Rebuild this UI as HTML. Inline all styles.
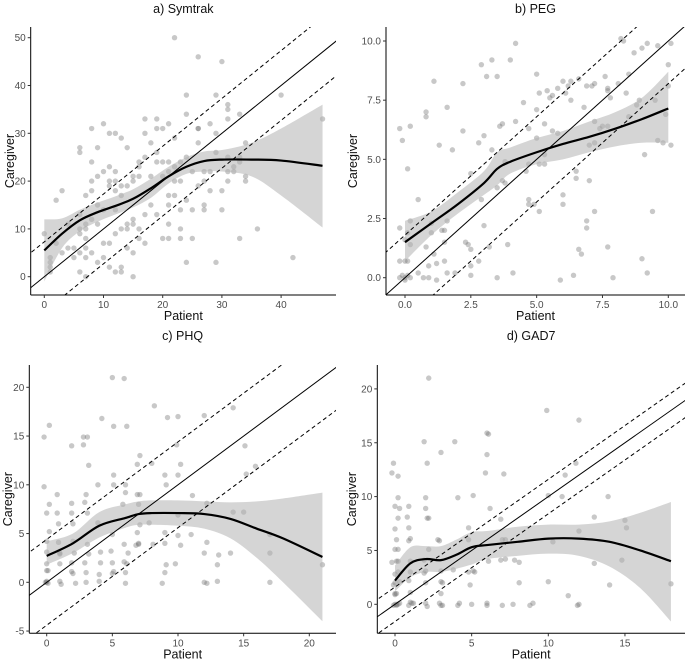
<!DOCTYPE html>
<html><head><meta charset="utf-8">
<style>
html,body{margin:0;padding:0;background:#fff;overflow:hidden;width:685px;height:661px;}
svg{display:block;font-family:"Liberation Sans",Arial,sans-serif;}
.tick{font-size:10px;fill:#4d4d4d;}
.atitle{font-size:12.5px;fill:#111;}
.ptitle{font-size:12.5px;fill:#111;}
</style></head>
<body>
<svg id="chart" width="685" height="661" viewBox="0 0 685 661"></svg>
<script>
// ---------- Panel a) Symtrak ----------
const symtrakPoints=[[0,9],[1,4],[1,3],[1,2],[1,1],[2,16],[2,7],[3,18],[3,5],[4,11],[4,6],[5,4],[5,6],[6,27],[6,26],[6,13],[6,10],[6,9],[6,5],[6,1],[7,17],[7,11],[7,10],[7,8],[7,6],[7,4],[7,0],[8,31],[8,24],[8,20],[8,18],[8,12],[8,5],[9,27],[9,21],[9,15],[9,11],[9,3],[10,32],[10,22],[10,14],[10,7],[10,4],[11,30],[11,23],[11,20],[11,19],[11,2],[11,7],[12,30],[12,22],[12,20],[12,18],[12,14],[12,9],[12,1],[13,29],[13,19],[13,17],[13,10],[13,2],[13,1],[14,27],[14,19],[14,11],[14,10],[14,6],[15,21],[15,20],[15,12],[15,11],[15,5],[15,0],[16,24],[16,23],[16,21],[16,10],[16,8],[17,33],[17,30],[17,25],[17,13],[17,7],[18,28],[18,21],[18,15],[19,33],[19,31],[19,26],[19,24],[19,13],[20,31],[20,24],[20,21],[20,8],[21,32],[21,24],[21,22],[21,17],[21,15],[21,11],[21,8],[22,50],[22,29],[22,23],[22,20],[22,17],[23,24],[23,20],[23,14],[23,10],[23,8],[24,38],[24,34],[24,25],[24,16],[24,3],[25,22],[25,14],[25,8],[26,46],[26,31],[26,31],[26,28],[26,19],[27,22],[27,20],[27,15],[27,14],[28,32],[28,22],[28,18],[29,38],[29,30],[29,26],[29,3],[30,45],[30,18],[30,14],[31,36],[31,35],[31,33],[31,25],[31,22],[31,20],[32,23],[32,22],[33,34],[33,25],[33,24],[33,8],[34,28],[34,21],[34,20],[36,10],[40,38],[42,4],[47,33]];
const symtrakSmoothX=[0,3,6,9,12,15,18,21,24,27,30,35,40,47];
const symtrakSmoothY=[5.5,9,11.8,13.5,14.8,16.3,18.5,21,23,24.2,24.5,24.5,24.3,23.2];
const symtrakLo=[-1,6,9.5,11.5,13,14.5,16.5,19.5,21.5,22,22,21,17,10.3];
const symtrakHi=[12,12.2,14,15.5,16.8,18.3,20.5,23,25,26.2,26.5,28,31,36];
const symtrakXTicks=[0,10,20,30,40];
const symtrakYTicks=[0,10,20,30,40,50];
const symtrakOffset=7.3;

// ---------- Panel b) PEG ----------
const pegPoints=[[-0.2,6.3],[-0.1,5.8],[-0.2,2.1],[-0.2,0.7],[0,0.7],[0.1,0.7],[0,1.6],[0.1,1.9],[0.2,1.4],[0.1,4.6],[0.2,6.4],[0.2,2.4],[-0.2,0],[0,0],[0,-0.1],[0.1,0.1],[0.2,0],[-0.1,0.1],[0.5,3.3],[0.5,0.2],[0.7,0],[0.8,7],[0.8,6.8],[0.8,1.3],[0.9,0.5],[0.9,0],[1,2.3],[1,1.9],[1.1,1],[1.1,8.3],[1.2,0.6],[1.2,-0.1],[1.3,5.6],[1.4,2],[1.5,2],[1.5,0.7],[1.5,1.5],[1.6,7.2],[1.6,2.4],[1.6,0.2],[1.8,5.4],[1.9,0.2],[2.2,8.2],[2.2,6.2],[2.3,1.5],[2.4,1.4],[2.5,4.4],[2.5,0.5],[2.5,1.2],[2.5,0.1],[2.8,5.7],[2.8,0.7],[2.9,9],[2.9,3.3],[3,6],[3,2.2],[3.1,8.5],[3.2,1.3],[3.3,9.2],[3.3,5.4],[3.5,8.5],[3.5,3.8],[3.5,0],[3.6,6.4],[3.7,6.5],[3.7,4.1],[3.8,4.9],[3.8,4],[3.9,1.4],[4,9.2],[4.1,0.2],[4.2,9.9],[4.2,6.6],[4.5,7.4],[4.6,4.5],[4.7,6.3],[4.7,4.8],[4.7,3.3],[4.7,3.1],[4.9,3.1],[5,8.6],[5,7.1],[5,5.9],[5.1,7.8],[5.1,4.8],[5.1,2.8],[5.3,4.8],[5.3,6.5],[5.3,5.2],[5.4,7.9],[5.5,7.6],[5.6,7.7],[5.6,6.2],[5.8,8],[5.8,6.1],[5.9,-0.1],[6,8.3],[6,3.1],[6,3.5],[6.1,7.8],[6.2,8.1],[6.3,8.3],[6.3,7.5],[6.4,0.1],[6.5,4.2],[6.5,4.5],[6.6,1.2],[6.6,8.4],[6.7,1],[6.8,7.2],[6.9,8.1],[6.9,2.4],[6.9,2.1],[7,5.6],[7,4.1],[7.1,8.1],[7.2,8.2],[7.2,6.6],[7.2,5.7],[7.2,2.8],[7.4,6.3],[7.5,6.4],[7.6,8.5],[7.7,8],[7.7,7.9],[7.7,6.4],[7.7,1.3],[7.8,7.6],[7.9,0],[8.1,8.2],[8.2,10.1],[8.3,10],[8.4,7.8],[8.5,6.8],[8.5,8.6],[8.7,9.5],[8.8,7.3],[8.9,7.5],[9,9.7],[9,0.8],[9.1,5.2],[9.2,9.9],[9.2,0.2],[9.4,2.8],[9.5,7.5],[9.6,5.8],[9.6,9.8],[9.8,5.7],[9.9,6.9],[10,8.1],[10,9],[10.1,9.9],[10.1,5.6]];
const pegSmoothX=[0,1,2,3,3.5,4,5,6,7,8,9,10];
const pegSmoothY=[1.5,2.3,3.1,4,4.6,4.9,5.3,5.65,5.95,6.3,6.7,7.15];
const pegLo=[0.7,1.8,2.7,3.5,3.9,4.4,4.8,5.0,5.3,5.55,5.7,5.7];
const pegHi=[2.4,2.8,3.6,4.5,5.3,5.5,5.9,6.2,6.6,7.0,7.6,8.7];
const pegXTicks=[0,2.5,5,7.5,10];
const pegYTicks=[0,2.5,5,7.5,10];
const pegOffset=1.8;

// ---------- Panel c) PHQ ----------
const phqPoints=[[-0.2,14.9],[-0.2,9.8],[0.2,16.1],[0.2,8],[0.2,5.2],[0,7.1],[0,4.2],[0,3.1],[0,1.9],[0,1.2],[0,0.1],[0,0],[0.1,-0.1],[-0.1,0],[0.1,1.2],[0.8,9],[0.8,7.1],[0.9,6],[0.9,4.1],[1,3],[1,2.9],[1,1.9],[1,0.1],[1.1,-0.2],[1.9,14],[1.9,8.1],[1.9,7.1],[1.9,2],[1.9,1.1],[2,0.9],[2,4.2],[2,6],[2.1,3],[2.2,-0.1],[2.8,14.9],[2.8,14.1],[2.9,8.2],[2.9,2],[3,9],[3,1],[3,0],[3.1,14.9],[3.1,7.1],[3.1,3.9],[3.2,12],[3.2,2.9],[3.9,6.1],[3.9,10],[4,0.8],[4,0.1],[4.1,3.1],[4.1,2],[4.2,16.8],[4.9,3.2],[5,0.9],[5,2],[5,21],[5.1,16],[5.1,11],[5.1,10],[5,4.9],[5.1,1.1],[5.8,8],[5.9,20.9],[5.9,3.9],[5.9,2.1],[6,10],[6,9.2],[6,1],[6,-0.1],[6.1,16],[6.1,1.9],[6.2,3],[6.8,3.8],[6.9,5.1],[6.9,9],[6.9,12.1],[7.1,13],[7,8],[7,4],[7,3.9],[7.1,5.9],[7.1,9],[7.8,6.1],[8,12.2],[8.1,3.9],[8.2,18.1],[8.8,-0.1],[9,11],[9,5.1],[9,4],[9,1],[9.1,1.8],[9.1,10],[9.2,16.9],[9.8,1.9],[9.9,14.1],[10,17],[10,11],[10,4.8],[10,6.9],[10.2,3.8],[10.2,12.1],[11,4.9],[11.1,8.9],[12,17.1],[12,3],[12,0],[12.2,-0.1],[12.2,4.1],[12.2,8.1],[13,0.1],[13.1,2.8],[13,1.8],[14,3],[14.2,17.9],[14.2,7.2],[15,7.2],[15.1,14],[15.2,11.1],[15.9,11.9],[17,4.9],[17,3],[17,0],[21,1.8]];
const phqSmoothX=[0,2,4,6,7,8,10,12,14,16,18,21];
const phqSmoothY=[2.7,4,5.8,6.6,7,7.1,7.1,7,6.5,5.5,4.5,2.6];
const phqLo=[1.8,3,4.6,5.6,5.9,5.9,5.8,5.5,4.5,2.5,0,-4];
const phqHi=[4.2,5,7.2,8,8.3,8.4,8.4,8.3,8.2,8.3,8.6,9.2];
const phqXTicks=[0,5,10,15,20];
const phqYTicks=[-5,0,5,10,15,20];
const phqOffset=4.4;

// ---------- Panel d) GAD7 ----------
const gadPoints=[[-0.1,13.1],[-0.2,12.2],[0.2,11.9],[0,9.1],[0.3,8.9],[0.2,9.9],[0.2,8],[0,7],[0.1,6],[0,5.1],[0.2,5.1],[0.1,4],[-0.2,3.9],[0,2.8],[0.2,3],[0,2],[-0.1,1.8],[0,1],[0.1,1],[0,0.9],[0,0],[0.1,0],[0.2,0],[-0.1,-0.1],[0.3,0.1],[0.1,-0.1],[0.2,4],[0.3,2.1],[0.9,9.1],[0.8,8.1],[0.9,7.1],[0.9,5.9],[1,6.1],[1,4],[0.9,2.2],[1,3],[1,1.1],[1,0.2],[0.9,-0.1],[1.1,0.1],[1.2,0.1],[1.9,15.1],[2,9.9],[2,8.9],[2.1,8],[2.2,8],[2.1,13.1],[2.2,21],[2.2,5.1],[1.9,4.1],[2,3.1],[1.9,2.9],[2,2],[2,0.1],[2.1,-0.2],[2.8,6],[2.9,5.9],[3,14.1],[3,3.1],[3,2.1],[3,1],[2.9,0.1],[3,-0.1],[3.1,-0.1],[3.1,2],[3.9,15.1],[3.8,3.2],[4.1,9.9],[4.1,-0.1],[4.2,0.1],[4.8,7.1],[4.8,6],[4.8,3],[4.9,1.8],[5,0],[5.1,10.1],[5.1,3.1],[5.2,3],[5.9,12.2],[6,15.9],[6.1,15.8],[6,13.9],[6.2,8.9],[6.1,4],[6,0.1],[6,-0.1],[6.9,7.9],[6.9,4.1],[7,6],[7,-0.1],[7.1,12.1],[7.2,6],[7.2,4.2],[7.7,0],[7.8,4.1],[8.1,3.9],[8.1,2],[8.8,-0.1],[9,0.1],[9.9,18],[10,10.1],[10,2.1],[10.3,5.8],[10.9,10],[11.1,12],[11.3,0.8],[11.8,13.1],[11.9,-0.1],[12,0],[12,17.1],[12,6.8],[13,8.1],[13,3.8],[13.9,10],[14,1.8],[14.8,4.1],[15,7.8],[15.1,7.1],[18,1.9]];
const gadSmoothX=[0,1,2,3,4,5,6,8,10,12,14,16,18];
const gadSmoothY=[2.2,3.8,4.2,4.1,4.6,5.3,5.5,5.8,6.1,6.1,5.8,5,4];
const gadLo=[1.2,2.5,3,3,3.3,3.7,4.2,4.5,4.7,4.5,3.5,1.5,-1.6];
const gadHi=[3.6,5.3,5.4,5.4,6,6.7,6.8,7.2,7.4,7.4,7.7,8.5,9.5];
const gadXTicks=[0,5,10,15];
const gadYTicks=[0,5,10,15,20];
const gadOffset=1.6;

const NS="http://www.w3.org/2000/svg";
const svg=document.getElementById('chart');
function mk(tag,attrs,parent){const e=document.createElementNS(NS,tag);for(const k in attrs)e.setAttribute(k,attrs[k]);(parent||svg).appendChild(e);return e;}
function fmt(v,dec){return dec?v.toFixed(1):String(v);}
function curve(pts){
  let d='M'+pts[0][0].toFixed(2)+','+pts[0][1].toFixed(2);
  for(let i=0;i<pts.length-1;i++){
    const p0=pts[Math.max(0,i-1)],p1=pts[i],p2=pts[i+1],p3=pts[Math.min(pts.length-1,i+2)];
    const c1=[p1[0]+(p2[0]-p0[0])/6,p1[1]+(p2[1]-p0[1])/6];
    const c2=[p2[0]-(p3[0]-p1[0])/6,p2[1]-(p3[1]-p1[1])/6];
    d+=' C'+c1.map(v=>v.toFixed(2)).join(',')+' '+c2.map(v=>v.toFixed(2)).join(',')+' '+p2[0].toFixed(2)+','+p2[1].toFixed(2);
  }
  return d;
}
let clipId=0;
function panel(cfg){
  const g=mk('g',{});
  
  
  const x=v=>cfg.x0+(v-cfg.xv0)*cfg.xs;
  const y=v=>cfg.y0-(v-cfg.yv0)*cfg.ys;
  const L=cfg.left,R=cfg.right,T=cfg.top,B=cfg.bottom;
  const cid='clip'+(clipId++);
  const cp=mk('clipPath',{id:cid},g);
  mk('rect',{x:L,y:T,width:R-L,height:B-T},cp);
  const plot=mk('g',{'clip-path':'url(#'+cid+')'},g);
  
  
  cfg.points.forEach(p=>{
    const c=mk('circle',{cx:x(p[0]).toFixed(2),cy:y(p[1]).toFixed(2),r:2.7,fill:'#6e6e6e','fill-opacity':0.38},plot);
    
    
  });
  const up=cfg.sx.map((v,i)=>[x(v),y(cfg.hi[i])]);
  const lo=cfg.sx.map((v,i)=>[x(v),y(cfg.lo[i])]).reverse();
  const bd=curve(up)+' L'+lo[0][0]+','+lo[0][1]+' '+curve(lo).slice(1)+' Z';
  const band=mk('path',{d:bd,fill:'#b3b3b3','fill-opacity':0.55,stroke:'none'},plot);
  
  
  const xa=cfg.xv0-50,xb=cfg.xv0+100;
  const idl=mk('line',{x1:x(xa),y1:y(xa),x2:x(xb),y2:y(xb),stroke:'#000','stroke-width':1},plot);
  
  
  [cfg.off,-cfg.off].forEach(o=>{
    const l=mk('line',{x1:x(xa),y1:y(xa+o),x2:x(xb),y2:y(xb+o),stroke:'#000','stroke-width':1,'stroke-dasharray':'4,3'},plot);
    
    
  });
  const sm=mk('path',{d:curve(cfg.sx.map((v,i)=>[x(v),y(cfg.sy[i])])),fill:'none',stroke:'#000','stroke-width':2.2},plot);
  
  
  const ax=mk('line',{x1:L,y1:B,x2:R,y2:B,stroke:'#000','stroke-width':1},g);
  
  
  const ay=mk('line',{x1:L,y1:T,x2:L,y2:B,stroke:'#000','stroke-width':1},g);
  
  
  cfg.xt.forEach(v=>{
    mk('line',{x1:x(v),y1:B,x2:x(v),y2:B+3,stroke:'#333'},g);
    const t=mk('text',{x:x(v),y:B+13,'text-anchor':'middle',class:'tick'},g);
    t.textContent=fmt(v,cfg.dec);
    
    
  });
  cfg.yt.forEach(v=>{
    mk('line',{x1:L-3,y1:y(v),x2:L,y2:y(v),stroke:'#333'},g);
    const t=mk('text',{x:L-5,y:y(v)+3.5,'text-anchor':'end',class:'tick'},g);
    t.textContent=fmt(v,cfg.dec);
    
    
  });
  const tt=mk('text',{x:(L+R)/2,y:cfg.titleY,'text-anchor':'middle',class:'ptitle'},g);
  tt.textContent=cfg.title;
  
  
  const xl=mk('text',{x:(L+R)/2,y:B+25,'text-anchor':'middle',class:'atitle'},g);
  xl.textContent='Patient';
  
  
  const yc=(T+B)/2;
  const yl=mk('text',{x:cfg.ylabX,y:yc,'text-anchor':'middle',class:'atitle',transform:'rotate(-90 '+cfg.ylabX+' '+yc+')'},g);
  yl.textContent='Caregiver';
  
  
}
panel({name:'symtrak',title:'a) Symtrak',points:symtrakPoints,sx:symtrakSmoothX,sy:symtrakSmoothY,lo:symtrakLo,hi:symtrakHi,xt:symtrakXTicks,yt:symtrakYTicks,off:symtrakOffset,dec:false,
  left:30.7,right:336,top:27,bottom:295,x0:44.3,xv0:0,xs:5.92,y0:276.7,yv0:0,ys:4.78,titleY:13,ylabX:14});
panel({name:'peg',title:'b) PEG',points:pegPoints,sx:pegSmoothX,sy:pegSmoothY,lo:pegLo,hi:pegHi,xt:pegXTicks,yt:pegYTicks,off:pegOffset,dec:true,
  left:386,right:685,top:27,bottom:295,x0:405,xv0:0,xs:26.33,y0:277.7,yv0:0,ys:23.67,titleY:13,ylabX:357});
panel({name:'phq',title:'c) PHQ',points:phqPoints,sx:phqSmoothX,sy:phqSmoothY,lo:phqLo,hi:phqHi,xt:phqXTicks,yt:phqYTicks,off:phqOffset,dec:false,
  left:29.3,right:336,top:365,bottom:633.3,x0:46.7,xv0:0,xs:13.13,y0:582.3,yv0:0,ys:9.75,titleY:340,ylabX:12});
panel({name:'gad7',title:'d) GAD7',points:gadPoints,sx:gadSmoothX,sy:gadSmoothY,lo:gadLo,hi:gadHi,xt:gadXTicks,yt:gadYTicks,off:gadOffset,dec:false,
  left:377.3,right:685,top:365,bottom:633.3,x0:395,xv0:0,xs:15.33,y0:604.3,yv0:0,ys:10.77,titleY:340,ylabX:356});
</script>
</body></html>
